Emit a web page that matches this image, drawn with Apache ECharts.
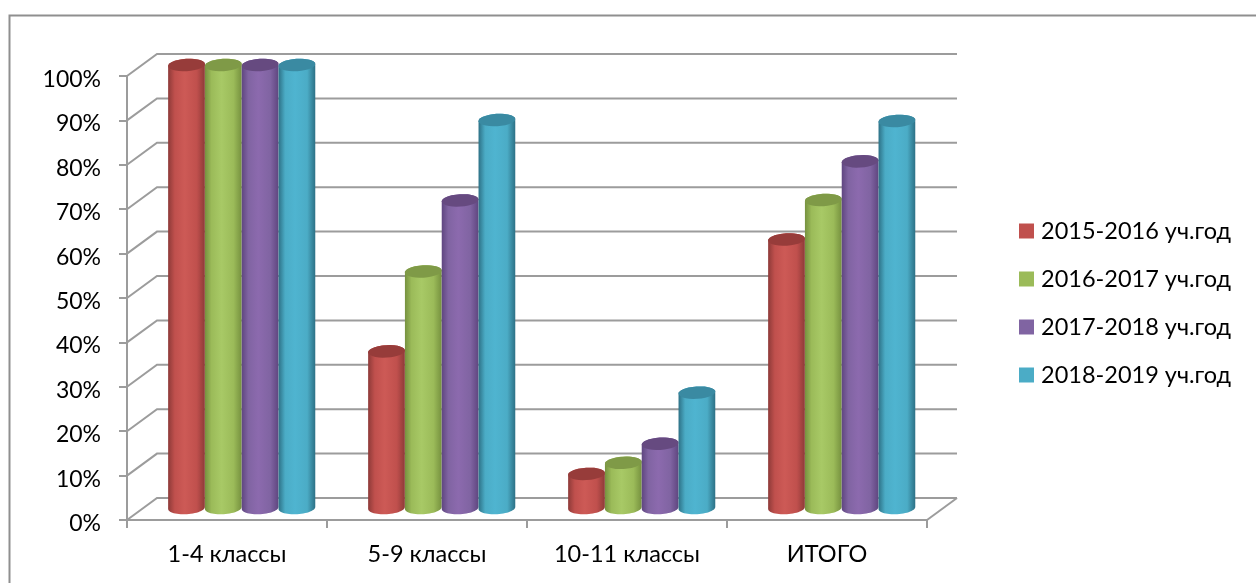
<!DOCTYPE html>
<html><head><meta charset="utf-8">
<script src="https://cdn.jsdelivr.net/npm/echarts@6/dist/echarts.min.js"></script>
<style>html,body{margin:0;padding:0;background:#fff}#c{width:1256px;height:583px}</style>
</head><body><div id="c"></div>
<script>
var categories = ['1-4 классы','5-9 классы','10-11 классы','ИТОГО'];
var seriesNames = ['2015-2016 уч.год','2016-2017 уч.год','2017-2018 уч.год','2018-2019 уч.год'];
var values2015 = [100,35.5,7.9,60.7];
var values2016 = [100,53.5,10.4,69.6];
var values2017 = [100,69.5,14.7,78.3];
var values2018 = [100,87.6,26.2,87.4];
var allValues = [values2015,values2016,values2017,values2018];
var yTicks = [0,10,20,30,40,50,60,70,80,90,100];
var palette = [
 {base:'#c0504d',light:'#cd5a56',dark:'#8e3a38',top:'#973c3a'},
 {base:'#9bbb59',light:'#a8c966',dark:'#76913f',top:'#7f9a47'},
 {base:'#8064a2',light:'#8c6aae',dark:'#5f4680',top:'#664a80'},
 {base:'#4bacc6',light:'#4fb4d0',dark:'#2d7186',top:'#3a8aa2'}
];
var FONT = 'Lato, "Open Sans", sans-serif';
var AXIS = '#9c9c9c';
var DX = 30, DY = -22;

function ellipsePts(cx, cy, rx, ry, from, to, tilt) {
  var pts = [], n = 28;
  for (var i = 0; i <= n; i++) {
    var t = from + (to - from) * i / n;
    var x = rx * Math.cos(t), y = ry * Math.sin(t);
    pts.push([cx + x * Math.cos(tilt) - y * Math.sin(tilt),
              cy + x * Math.sin(tilt) + y * Math.cos(tilt)]);
  }
  return pts;
}
function cylinderItem(si) {
  return function (params, api) {
    var c = api.value(0), v = api.value(1);
    var base = api.coord([c, 0]), top = api.coord([c, v]);
    var band = api.size([1, 0])[0];
    var w = band * 0.184;
    var cx = base[0] + DX / 2 + (si - 1.5) * w - 0.3;
    var yb = base[1] + DY / 2, yt = top[1] + DY / 2;
    var rx = w / 2, ry = 6.2, tilt = -0.06;
    var p = palette[si];
    var body = ellipsePts(cx, yt, rx, ry, Math.PI, 2 * Math.PI, tilt)
      .concat(ellipsePts(cx, yb - 1, rx, ry, 0, Math.PI, tilt));
    var grad = {type:'linear',x:0,y:0,x2:1,y2:0,colorStops:[
      {offset:0,color:p.dark},{offset:0.18,color:p.base},{offset:0.45,color:p.light},
      {offset:0.78,color:p.base},{offset:1,color:p.dark}]};
    return {type:'group',children:[
      {type:'polygon',shape:{points:body},style:{fill:grad}},
      {type:'polygon',shape:{points:ellipsePts(cx, yt, rx, ry, 0, 2 * Math.PI, tilt)},style:{fill:p.top}}
    ]};
  };
}
function wallItem(params, api) {
  var v = api.value(0);
  var a = api.coord([0, v]), band = api.size([1, 0])[0];
  var x0 = a[0] - band / 2, b = band * categories.length;
  var ls = {stroke:AXIS,lineWidth:2,fill:null};
  var back = {type:'polyline',shape:{points:[[x0,a[1]],[x0+DX,a[1]+DY],[x0+DX+b,a[1]+DY]]},style:ls};
  if (v !== 0) return back;
  return {type:'group',children:[back,
    {type:'line',shape:{x1:x0+b,y1:a[1],x2:x0+b+DX,y2:a[1]+DY},style:ls}]};
}
var series = [{
  type:'custom',silent:true,coordinateSystem:'cartesian2d',z:1,
  data:yTicks.map(function(t){return [t];}),renderItem:wallItem,encode:{y:0}
}];
seriesNames.forEach(function(name, si){
  series.push({
    name:name,type:'custom',coordinateSystem:'cartesian2d',z:2+si,
    itemStyle:{color:palette[si].base},
    encode:{x:0,y:1},
    data:allValues[si].map(function(v,i){return [i,v];}),
    renderItem:cylinderItem(si)
  });
});
var chart = echarts.init(document.getElementById('c'),null,{renderer:'canvas'});
chart.setOption({
  animation:false,
  backgroundColor:'#fff',
  graphic:[{type:'rect',shape:{x:9.5,y:15.5,width:1300,height:600},style:{fill:'none',stroke:'#8f8f8f',lineWidth:2},z:0}],
  legend:{
    orient:'vertical',left:1019,top:219,padding:0,itemWidth:15,itemHeight:15,itemGap:24,
    icon:'rect',data:seriesNames,
    textStyle:{fontFamily:FONT,fontSize:23.5,lineHeight:24,color:'#000',padding:[0,0,0,2]}
  },
  grid:{left:127,top:76,width:800,height:444},
  xAxis:{type:'category',data:categories,boundaryGap:true,
    axisLine:{lineStyle:{color:AXIS,width:2}},
    axisTick:{show:true,alignWithLabel:false,length:8,lineStyle:{color:AXIS,width:2}},
    axisLabel:{fontFamily:FONT,fontSize:23.5,color:'#000',margin:22,interval:0},
    splitLine:{show:false}},
  yAxis:{type:'value',min:0,max:100,interval:10,
    axisLine:{show:true,lineStyle:{color:AXIS,width:2}},
    axisTick:{show:true,length:8,lineStyle:{color:AXIS,width:2}},
    axisLabel:{fontFamily:FONT,fontSize:23,color:'#000',margin:26,verticalAlign:'top',lineHeight:7,formatter:'{value}%'},
    splitLine:{show:false}},
  series:series
});
</script></body></html>
